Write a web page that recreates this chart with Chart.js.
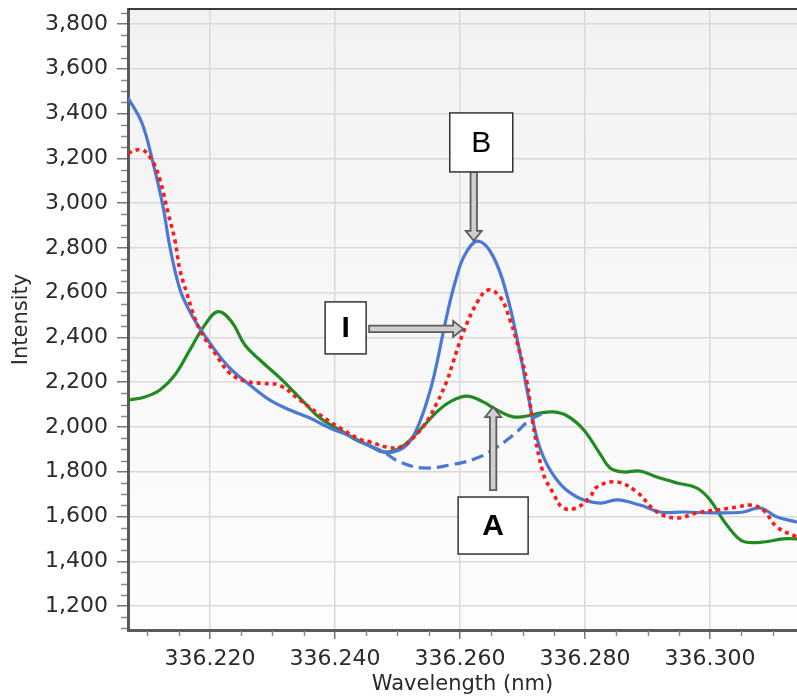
<!DOCTYPE html>
<html><head><meta charset="utf-8">
<script src="https://cdn.jsdelivr.net/npm/chart.js@4"></script>
<style>html,body{margin:0;padding:0;background:#fff}#wrap{width:797px;height:697px}</style>
</head><body><div id="wrap"><canvas id="c" width="797" height="697"></canvas></div>
<script>
// ---- data ----
const xTickValues = [336.220, 336.240, 336.260, 336.280, 336.300];
const yTickValues = [1200, 1400, 1600, 1800, 2000, 2200, 2400, 2600, 2800, 3000, 3200, 3400, 3600, 3800];

const wlB = [336.2069, 336.2091, 336.2109, 336.2125, 336.2136, 336.2152, 336.2168, 336.2184, 336.2208, 336.2232, 336.2264, 336.2296, 336.2328, 336.2360, 336.2392, 336.2424, 336.2456, 336.2477, 336.2493, 336.2517, 336.2536, 336.2552, 336.2563, 336.2576, 336.2592, 336.2608, 336.2629, 336.2653, 336.2675, 336.2696, 336.2709, 336.2728, 336.2755, 336.2787, 336.2824, 336.2851, 336.2888, 336.2920, 336.2957, 336.3011, 336.3053, 336.3080, 336.3107, 336.3139];
const intB = [3470, 3360, 3180, 2985, 2805, 2615, 2515, 2440, 2344, 2263, 2187, 2120, 2076, 2040, 1995, 1960, 1915, 1890, 1888, 1925, 2025, 2160, 2285, 2460, 2645, 2770, 2830, 2762, 2590, 2330, 2140, 1905, 1763, 1687, 1660, 1674, 1651, 1620, 1620, 1616, 1620, 1638, 1598, 1575];

const wlBase = [336.2456, 336.2477, 336.2504, 336.2541, 336.2584, 336.2627, 336.2659, 336.2685, 336.2712, 336.2736];
const intBase = [1915, 1890, 1843, 1817, 1830, 1861, 1910, 1964, 2031, 2065];

const wlA = [336.2069, 336.2096, 336.2120, 336.2144, 336.2168, 336.2192, 336.2213, 336.2235, 336.2256, 336.2280, 336.2312, 336.2344, 336.2376, 336.2408, 336.2432, 336.2456, 336.2477, 336.2504, 336.2531, 336.2563, 336.2584, 336.2611, 336.2637, 336.2659, 336.2685, 336.2707, 336.2728, 336.2749, 336.2771, 336.2797, 336.2824, 336.2840, 336.2861, 336.2888, 336.2915, 336.2947, 336.2979, 336.3000, 336.3021, 336.3043, 336.3056, 336.3085, 336.3117, 336.3139];
const intA = [2120, 2134, 2165, 2232, 2344, 2456, 2515, 2469, 2366, 2299, 2219, 2129, 2040, 1986, 1945, 1915, 1888, 1906, 1973, 2067, 2112, 2138, 2112, 2076, 2045, 2049, 2062, 2067, 2050, 1990, 1880, 1817, 1799, 1803, 1776, 1750, 1727, 1674, 1584, 1508, 1486, 1486, 1500, 1500];

const wlI = [336.2069, 336.2091, 336.2107, 336.2120, 336.2133, 336.2144, 336.2152, 336.2163, 336.2173, 336.2184, 336.2208, 336.2232, 336.2256, 336.2283, 336.2312, 336.2344, 336.2376, 336.2408, 336.2440, 336.2456, 336.2483, 336.2504, 336.2525, 336.2547, 336.2563, 336.2579, 336.2589, 336.2605, 336.2627, 336.2645, 336.2664, 336.2680, 336.2696, 336.2707, 336.2717, 336.2733, 336.2749, 336.2765, 336.2787, 336.2808, 336.2819, 336.2851, 336.2883, 336.2915, 336.2947, 336.2979, 336.3011, 336.3043, 336.3064, 336.3085, 336.3107, 336.3139];
const intI = [3224, 3238, 3193, 3104, 2956, 2835, 2701, 2598, 2509, 2433, 2330, 2240, 2205, 2195, 2185, 2120, 2054, 1995, 1945, 1933, 1910, 1910, 1951, 2025, 2107, 2205, 2290, 2420, 2554, 2612, 2581, 2478, 2330, 2200, 2010, 1794, 1705, 1638, 1640, 1687, 1732, 1754, 1709, 1620, 1593, 1616, 1629, 1642, 1651, 1629, 1553, 1508];

const annLabels = ['B', 'I', 'A'];
const annWl = [336.2622, 336.2605, 336.2653];
const annInt = [2831, 2438, 2089];

const xMin = 336.2069, xMax = 336.3139, yMin = 1093, yMax = 3867;

// ---- helpers ----
const pts = (xs, ys) => xs.map((x, i) => ({x: x, y: ys[i]}));
const FONT = "'DejaVu Sans', Verdana, sans-serif";

const bgPlugin = {
  id: 'bg',
  beforeDraw(chart) {
    const {ctx, chartArea: a} = chart;
    const g = ctx.createLinearGradient(0, a.top, 0, a.bottom);
    g.addColorStop(0, '#f2f2f2');
    g.addColorStop(1, '#fdfdfd');
    ctx.save(); ctx.fillStyle = g; ctx.fillRect(a.left, a.top, a.right - a.left, a.bottom - a.top); ctx.restore();
  }
};

function drawArrow(ctx, x1, y1, x2, y2) {
  const ang = Math.atan2(y2 - y1, x2 - x1);
  const len = Math.hypot(x2 - x1, y2 - y1);
  const sw = 3.2, hw = 8, hl = 10;
  ctx.save(); ctx.translate(x1, y1); ctx.rotate(ang);
  ctx.beginPath();
  ctx.moveTo(0, -sw); ctx.lineTo(len - hl, -sw); ctx.lineTo(len - hl, -hw); ctx.lineTo(len, 0);
  ctx.lineTo(len - hl, hw); ctx.lineTo(len - hl, sw); ctx.lineTo(0, sw); ctx.closePath();
  ctx.fillStyle = '#cfcfcf'; ctx.fill();
  ctx.lineWidth = 1.8; ctx.strokeStyle = '#5c5c5c'; ctx.lineJoin = 'miter'; ctx.stroke();
  ctx.restore();
}

const overlay = {
  id: 'overlay',
  afterDraw(chart) {
    const {ctx, chartArea: a, scales: {x, y}} = chart;
    ctx.save();
    ctx.strokeStyle = '#3c3c3c'; ctx.lineWidth = 2;
    ctx.beginPath(); ctx.moveTo(a.left, a.top); ctx.lineTo(a.right, a.top); ctx.stroke();
    ctx.strokeStyle = '#8a8a8a'; ctx.lineWidth = 1.5;
    for (let v = 1100; v <= 3850; v += 50) {
      if (v % 200 === 0) continue;
      const py = Math.round(y.getPixelForValue(v)) + 0.5;
      ctx.beginPath(); ctx.moveTo(a.left - 7, py); ctx.lineTo(a.left - 1, py); ctx.stroke();
    }
    for (let k = 0; k < 30; k++) {
      const v = 336.205 + k * 0.005;
      if (v > xMax) break;
      if (Math.abs(((v - 336.2) / 0.02) - Math.round((v - 336.2) / 0.02)) < 1e-3) continue;
      const px = Math.round(x.getPixelForValue(v)) + 0.5;
      if (px < a.left) continue;
      ctx.beginPath(); ctx.moveTo(px, a.bottom + 1); ctx.lineTo(px, a.bottom + 6); ctx.stroke();
    }
    ctx.restore();

    const boxes = [
      {dx: -24, dy: -128, w: 63, h: 59, tail: 'bottom', bold: false},
      {dx: -138, dy: -27, w: 41, h: 52, tail: 'right', bold: true},
      {dx: -35, dy: 90, w: 70, h: 57, tail: 'top', bold: true}
    ];
    annLabels.forEach((lab, i) => {
      const tx = x.getPixelForValue(annWl[i]);
      const ty = y.getPixelForValue(annInt[i]);
      const b = boxes[i];
      const bx = tx + b.dx, by = ty + b.dy;
      let sx, sy;
      if (b.tail === 'bottom') { sx = tx; sy = by + b.h; }
      else if (b.tail === 'right') { sx = bx + b.w + 3; sy = ty; }
      else { sx = tx; sy = by - 7; }
      drawArrow(ctx, sx, sy, tx, ty);
      ctx.save();
      ctx.fillStyle = '#ffffff'; ctx.fillRect(bx, by, b.w, b.h);
      ctx.strokeStyle = '#333333'; ctx.lineWidth = 1.5; ctx.strokeRect(bx, by, b.w, b.h);
      ctx.fillStyle = '#000000';
      ctx.font = (b.bold ? 'bold ' : '') + "30px 'Liberation Sans', Arial, sans-serif";
      ctx.textAlign = 'center'; ctx.textBaseline = 'middle';
      ctx.fillText(lab, bx + b.w / 2, by + b.h / 2 + 1);
      ctx.restore();
    });
  }
};

const lineStyle = {pointRadius: 0, tension: 0.4, fill: false, borderCapStyle: 'butt'};

new Chart(document.getElementById('c'), {
  type: 'line',
  data: {
    datasets: [
      Object.assign({label: 'I', data: pts(wlI, intI), borderColor: '#ff1a1a', borderWidth: 3.6, borderDash: [4, 4], order: 0}, lineStyle),
      Object.assign({label: 'B', data: pts(wlB, intB), borderColor: '#4a78d2', borderWidth: 3.2, order: 1}, lineStyle),
      Object.assign({label: 'Baseline', data: pts(wlBase, intBase), borderColor: '#4a78d2', borderWidth: 3.2, borderDash: [12, 6], order: 2}, lineStyle),
      Object.assign({label: 'A', data: pts(wlA, intA), borderColor: '#218a21', borderWidth: 3.2, order: 3}, lineStyle)
    ]
  },
  options: {
    responsive: false,
    animation: false,
    devicePixelRatio: 1,
    layout: {padding: {top: 9, right: 0, left: 0, bottom: 0}},
    plugins: {legend: {display: false}, tooltip: {enabled: false}},
    scales: {
      x: {
        type: 'linear', min: xMin, max: xMax,
        afterBuildTicks: s => { s.ticks = xTickValues.map(v => ({value: v})); },
        afterFit: s => { s.height = 67; s.paddingLeft = 0; s.paddingRight = 0; },
        ticks: {callback: v => Number(v).toFixed(3), color: '#2a2a2a', font: {family: FONT, size: 22}, padding: 7, maxRotation: 0, autoSkip: false},
        grid: {color: '#d9d9d9', lineWidth: 1.5, tickLength: 9, tickColor: '#777', tickWidth: 1.5},
        border: {color: '#5a5a5a', width: 3},
        title: {display: true, text: 'Wavelength (nm)', color: '#2a2a2a', font: {family: FONT, size: 21}, padding: {top: 0, bottom: 0}}
      },
      y: {
        type: 'linear', min: yMin, max: yMax,
        afterBuildTicks: s => { s.ticks = yTickValues.map(v => ({value: v})); },
        afterFit: s => { s.width = 128; s.paddingTop = 0; s.paddingBottom = 0; },
        ticks: {callback: v => Number(v).toLocaleString('en-US'), color: '#2a2a2a', font: {family: FONT, size: 22}, padding: 9, autoSkip: false},
        grid: {color: '#d9d9d9', lineWidth: 1.5, tickLength: 11, tickColor: '#777', tickWidth: 1.5},
        border: {color: '#5a5a5a', width: 3},
        title: {display: true, text: 'Intensity', color: '#2a2a2a', font: {family: FONT, size: 21}, padding: {top: 9, bottom: 0}}
      }
    }
  },
  plugins: [bgPlugin, overlay]
});
</script>
</body></html>
